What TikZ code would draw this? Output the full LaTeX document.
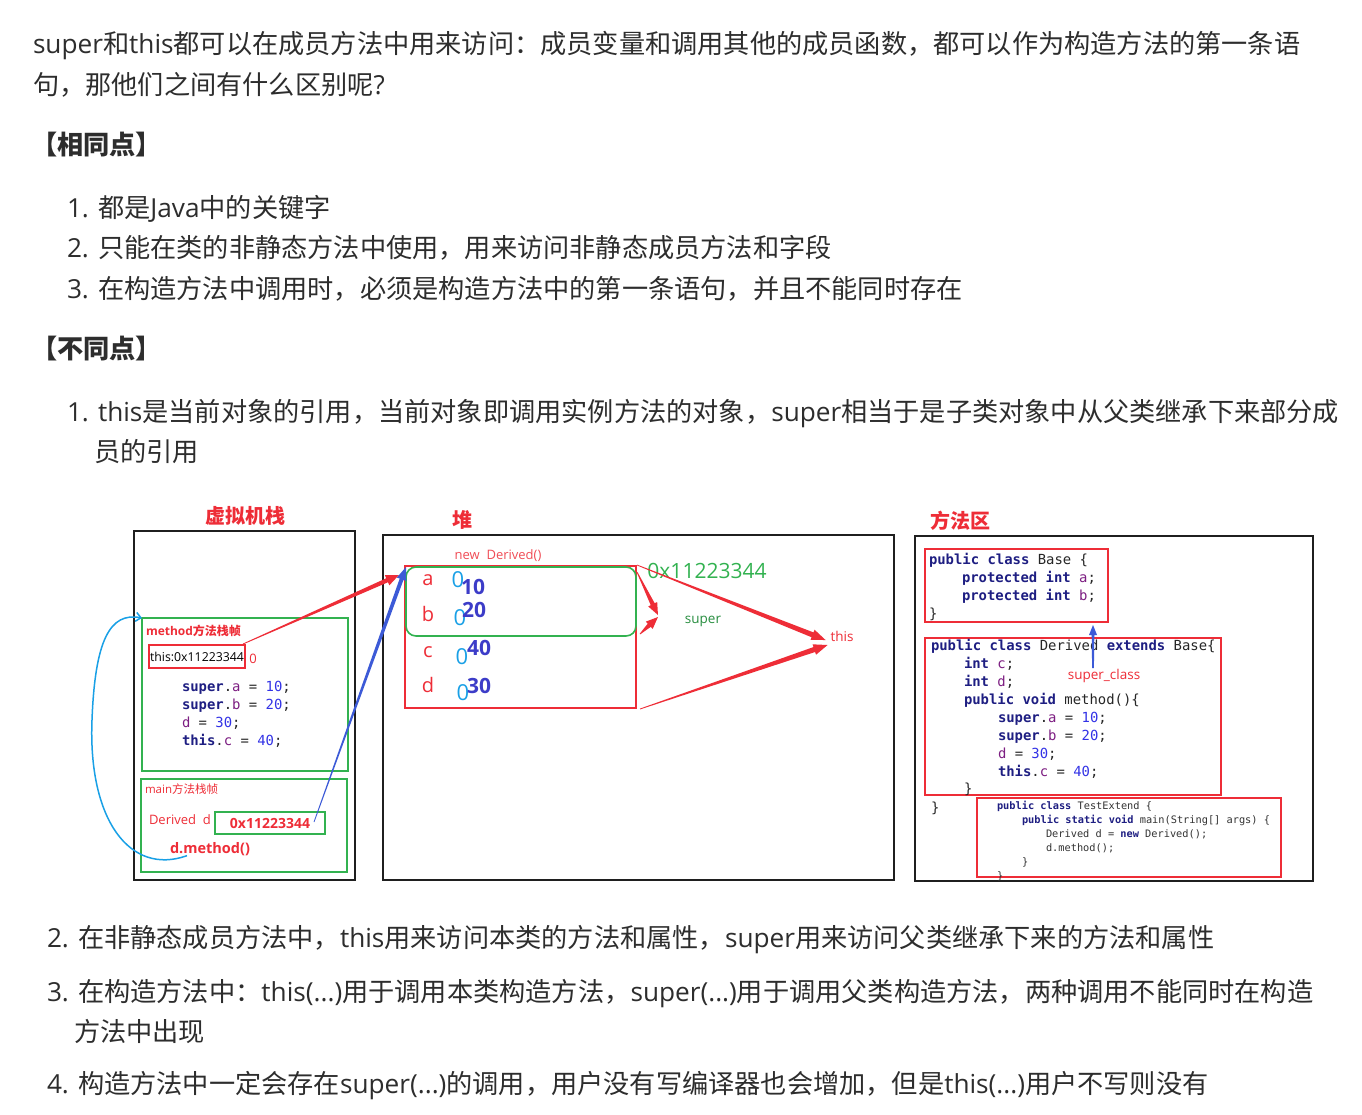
\documentclass[tikz,border=0pt]{standalone}
\usepackage{fontspec}
\setmainfont{Open Sans}
\setmonofont{DejaVu Sans Mono}
\newfontfamily\cjk{Noto Sans CJK SC}
\newfontfamily\latinf{Open Sans}
\usetikzlibrary{calc,arrows.meta}
\XeTeXinterchartokenstate=1
\newXeTeXintercharclass\cjkcls
\makeatletter
\count@="3000
\loop\XeTeXcharclass\count@=\cjkcls\ifnum\count@<"303F \advance\count@ 1 \repeat
\count@="4E00
\loop\XeTeXcharclass\count@=\cjkcls\ifnum\count@<"9FFF \advance\count@ 1 \repeat
\count@="FF00
\loop\XeTeXcharclass\count@=\cjkcls\ifnum\count@<"FFEF \advance\count@ 1 \repeat
\makeatother
\XeTeXinterchartoks 0 \cjkcls = {\cjk}
\XeTeXinterchartoks 4095 \cjkcls = {\cjk}
\XeTeXinterchartoks \cjkcls 0 = {\latinf}
\definecolor{txt}{RGB}{45,45,45}
\definecolor{rd}{RGB}{238,45,55}
\definecolor{gn}{RGB}{50,178,80}
\definecolor{cy}{RGB}{25,160,230}
\definecolor{bl}{RGB}{60,90,215}
\definecolor{kwc}{RGB}{30,30,130}
\definecolor{fdc}{RGB}{125,30,130}
\definecolor{nmc}{RGB}{50,50,230}
\definecolor{nav}{RGB}{60,60,200}
\newcommand\kw[1]{{\bfseries\color{kwc}#1}}
\newcommand\fd[1]{{\color{fdc}#1}}
\newcommand\nm[1]{{\color{nmc}#1}}
\newcommand\fsz[1]{\fontsize{#1}{#1}\selectfont}
% tapered arrow: color, from, to, start half width, end half width, head length, head half width
\newcommand\taper[7]{%
  \coordinate (tpA) at (#2);
  \coordinate (tpB) at (#3);
  \coordinate (tpC) at ($(tpB)!#6!(tpA)$);
  \fill[#1] ($(tpA)!#4!90:(tpB)$) -- ($(tpC)!#5!-90:(tpA)$) -- ($(tpC)!#7!-90:(tpA)$)
    -- (tpB) -- ($(tpC)!#7!90:(tpA)$) -- ($(tpC)!#5!90:(tpA)$) -- ($(tpA)!#4!-90:(tpB)$) -- cycle;}
\tikzset{
  every node/.style={inner sep=0pt, outer sep=0pt},
  body/.style={anchor=base west, font=\fsz{26.2}, text=txt},
  head/.style={anchor=base west, font=\fsz{26.2}\bfseries, text=txt},
  frame/.style={draw=black!88, line width=2pt},
  redbox/.style={draw=rd, line width=1.6pt},
  grnbox/.style={draw=gn, line width=1.6pt},
  code/.style={anchor=base west, font=\fsz{13.9}\ttfamily, text=black!85},
  scode/.style={anchor=base west, font=\fsz{10.3}\ttfamily, text=black!80},
  title/.style={font=\fsz{20}\bfseries, text=rd},
}
\begin{document}
\begin{tikzpicture}[x=1pt,y=-1pt]
\useasboundingbox (0,0) rectangle (1362,1114);
\fill[white] (0,0) rectangle (1362,1114);
% ---------- text ----------
\node[body] (t1) at (33,53) {super和this都可以在成员方法中用来访问：成员变量和调用其他的成员函数，都可以作为构造方法的第一条语};
\node[body] (t2) at (33,94) {句，那他们之间有什么区别呢?};
\node[head] (h1) at (31,154) {【相同点】};
\node[body] (i1) at (67,217) {1. 都是Java中的关键字};
\node[body] (i2) at (67,257) {2. 只能在类的非静态方法中使用，用来访问非静态成员方法和字段};
\node[body] (i3) at (67,298) {3. 在构造方法中调用时，必须是构造方法中的第一条语句，并且不能同时存在};
\node[head] (h2) at (31,358) {【不同点】};
\node[body] (j1) at (67,421) {1. this是当前对象的引用，当前对象即调用实例方法的对象，super相当于是子类对象中从父类继承下来部分成};
\node[body] (j1b) at (94,461) {员的引用};
\node[body] (j2) at (47,947) {2. 在非静态成员方法中，this用来访问本类的方法和属性，super用来访问父类继承下来的方法和属性};
\node[body] (j3) at (47,1001) {3. 在构造方法中：this(...)用于调用本类构造方法，super(...)用于调用父类构造方法，两种调用不能同时在构造};
\node[body] (j3b) at (74,1041) {方法中出现};
\node[body] (j4) at (47,1093) {4. 构造方法中一定会存在super(...)的调用，用户没有写编译器也会增加，但是this(...)用户不写则没有};
% ---------- diagram frames ----------
\node[title] (tstack) at (245,516) {虚拟机栈};
\node[title] (theap) at (462,520) {堆};
\node[title] (tarea) at (960,521) {方法区};
\node[frame, minimum width=221, minimum height=349] (stack) at (244.5,705.5) {};
\node[frame, minimum width=511, minimum height=345] (heap) at (638.5,707.5) {};
\node[frame, minimum width=398, minimum height=345] (marea) at (1114,708.5) {};
% ---------- stack ----------
\node[grnbox, minimum width=206, minimum height=153] (mframe) at (245,694.5) {};
\node[anchor=west, font=\fsz{12}\bfseries, text=rd] (mlab) at (146,631) {method方法栈帧};
\node[redbox, minimum width=96, minimum height=23, font=\fsz{12.3}, text=black] (thisbox) at (197,656.5) {this:0x11223344};
\node[anchor=center, font=\fsz{13}, text=rd] (zero) at (253,659) {0};
\node[code] (s1) at (182,691) {\kw{super}.\fd{a} = \nm{10};};
\node[code] (s2) at (182,709) {\kw{super}.\fd{b} = \nm{20};};
\node[code] (s3) at (182,727) {\fd{d} = \nm{30};};
\node[code] (s4) at (182,745) {\kw{this}.\fd{c} = \nm{40};};
\node[grnbox, minimum width=206, minimum height=93] (mainf) at (244,825.5) {};
\node[anchor=west, font=\fsz{11.5}, text=rd] (mnlab) at (145,789) {main方法栈帧};
\node[anchor=west, font=\fsz{13}, text=rd] (dvar) at (149,820) {Derived\ \ d};
\node[grnbox, minimum width=110, minimum height=22, font=\fsz{14}\bfseries, text=rd] (addr) at (270,823) {0x11223344};
\node[anchor=west, font=\fsz{14.5}\bfseries, text=rd] (dm) at (170,849) {d.method()};
% ---------- heap ----------
\node[font=\fsz{13}, text=rd!85] (newd) at (498,556) {new\ \ Derived()};
\node[redbox, minimum width=231, minimum height=142] (objbox) at (520.5,637) {};
\node[grnbox, rounded corners=10pt, minimum width=230, minimum height=69] (superbox) at (521,601.5) {};
\node[font=\fsz{20}, text=rd] (fa) at (428,580) {a};
\node[font=\fsz{20}, text=rd] (fb) at (428,614) {b};
\node[font=\fsz{20}, text=rd] (fc) at (428,652) {c};
\node[font=\fsz{20}, text=rd] (fdd) at (428,685) {d};
\node[font=\fsz{22}, text=cy] (z1) at (458,580) {0};
\node[font=\fsz{22}, text=cy] (z2) at (460,618) {0};
\node[font=\fsz{22}, text=cy] (z3) at (462,657) {0};
\node[font=\fsz{22}, text=cy] (z4) at (463,693) {0};
\node[font=\fsz{21}\bfseries, text=nav] (v1) at (473,587) {10};
\node[font=\fsz{21}\bfseries, text=nav] (v2) at (474,610) {20};
\node[font=\fsz{21}\bfseries, text=nav] (v3) at (479,648) {40};
\node[font=\fsz{21}\bfseries, text=nav] (v4) at (479,686) {30};
\node[font=\fsz{21}, text=gn] (haddr) at (707,571) {0x11223344};
\node[font=\fsz{13.5}, text=gn!80!black] (lsuper) at (703,621) {super};
\node[font=\fsz{13.5}, text=rd] (lthis) at (842,636) {this};
% ---------- method area ----------
\node[redbox, minimum width=183, minimum height=73] (basebox) at (1016.5,585.5) {};
\node[code] (b1) at (929,564) {\kw{public class} Base \{};
\node[code] (b2) at (962,582) {\kw{protected int} \fd{a};};
\node[code] (b3) at (962,600) {\kw{protected int} \fd{b};};
\node[code] (b4) at (929,618) {\}};
\node[redbox, minimum width=296, minimum height=157] (derbox) at (1073,716.5) {};
\node[code] (d1) at (931,650) {\kw{public class} Derived \kw{extends} Base\{};
\node[code] (d2) at (964,668) {\kw{int} \fd{c};};
\node[code] (d3) at (964,686) {\kw{int} \fd{d};};
\node[code] (d4) at (964,704) {\kw{public void} method()\{};
\node[code] (d5) at (998,722) {\kw{super}.\fd{a} = \nm{10};};
\node[code] (d6) at (998,740) {\kw{super}.\fd{b} = \nm{20};};
\node[code] (d7) at (998,758) {\fd{d} = \nm{30};};
\node[code] (d8) at (998,776) {\kw{this}.\fd{c} = \nm{40};};
\node[code] (d9) at (964,793) {\}};
\node[code] (d10) at (931,812) {\}};
\node[font=\fsz{13.5}, text=rd] (lsc) at (1104,676) {super\_class};
\node[redbox, minimum width=304, minimum height=79] (testbox) at (1129,837.5) {};
\node[scode] (e1) at (997,809) {\kw{public class} TestExtend \{};
\node[scode] (e2) at (1022,823) {\kw{public static void} main(String[] args) \{};
\node[scode] (e3) at (1046,837) {Derived d = \kw{new} Derived();};
\node[scode] (e4) at (1046,851) {d.method();};
\node[scode] (e5) at (1022,865) {\}};
\node[scode] (e6) at (997,879) {\}};
% ---------- connectors ----------
\coordinate (sc1) at (1093,668);
\coordinate (sc2) at (1093,625);
\taper{bl}{sc1}{sc2}{0.9pt}{1.3pt}{10pt}{4pt}
\taper{rd}{$(thisbox.north east)+(-2,-1)$}{$(objbox.north west)+(-6,9)$}{0.4pt}{2.2pt}{13pt}{5.5pt}
\taper{bl}{$(addr.east)+(-11,-1)$}{$(objbox.north west)+(1,1)$}{0.4pt}{2pt}{13pt}{5pt}
\taper{rd}{$(objbox.north east)+(1,6)$}{$(lsuper.west)+(-27,-6)$}{0.4pt}{2.2pt}{12pt}{5pt}
\taper{rd}{$(superbox.south east)+(4,-2)$}{$(lsuper.west)+(-27,-4)$}{0.4pt}{2.2pt}{12pt}{5pt}
\taper{rd}{$(objbox.north east)+(1,-1)$}{$(lthis.west)+(-5,4)$}{0.4pt}{2.6pt}{14pt}{5.5pt}
\taper{rd}{$(objbox.south east)+(4,1)$}{$(lthis.west)+(-3,9)$}{0.4pt}{2.6pt}{14pt}{5.5pt}
\coordinate (cvs) at ($(dm.south west)+(17,0)$);
\draw[cy, line width=1.5pt, -{Straight Barb[length=5pt,width=9pt]}]
  (cvs) .. controls (130,876) and (88,820) .. (92,720) .. controls (95,640) and (110,612) .. (mframe.north west);
\end{tikzpicture}
\end{document}
